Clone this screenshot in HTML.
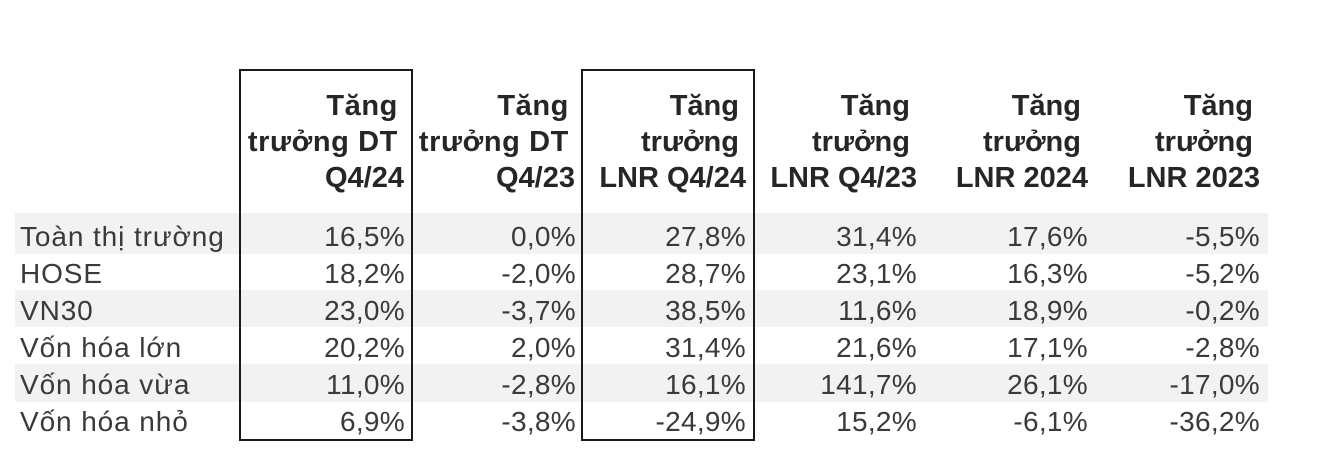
<!DOCTYPE html>
<html>
<head>
<meta charset="utf-8">
<style>
html,body{margin:0;padding:0;background:#fff;}
body{width:1334px;height:474px;position:relative;overflow:hidden;font-family:"Liberation Sans",Arial,sans-serif;}
.shade{position:absolute;left:15px;width:1253px;background:#f2f2f2;}
.box{position:absolute;top:69px;height:368px;border:2px solid #1a1a1a;box-sizing:content-box;}
.h{position:absolute;font-weight:bold;font-size:29px;line-height:29px;color:#262626;text-align:right;white-space:nowrap;}
.h.a{letter-spacing:0.6px;}
.d{position:absolute;font-size:28px;line-height:28px;color:#3a3a3a;text-align:right;white-space:nowrap;letter-spacing:0.3px;}
.l{position:absolute;left:20px;font-size:28px;line-height:28px;color:#3a3a3a;white-space:nowrap;letter-spacing:0.9px;}
</style>
</head>
<body>
<div class="shade" style="top:213px;height:41px;"></div>
<div class="shade" style="top:290px;height:37px;"></div>
<div class="shade" style="top:364px;height:38px;"></div>

<div class="box" style="left:239px;width:170px;"></div>
<div class="box" style="left:581px;width:170px;"></div>

<div class="h a" style="right:936px;top:92px;">Tăng</div>
<div class="h a" style="right:936px;top:128px;">trưởng DT</div>
<div class="h" style="right:930px;top:164px;">Q4/24</div>

<div class="h a" style="right:765px;top:92px;">Tăng</div>
<div class="h a" style="right:765px;top:128px;">trưởng DT</div>
<div class="h" style="right:759px;top:164px;">Q4/23</div>

<div class="h" style="right:595px;top:92px;">Tăng</div>
<div class="h" style="right:595px;top:128px;">trưởng</div>
<div class="h" style="right:588px;top:164px;">LNR Q4/24</div>

<div class="h" style="right:424px;top:92px;">Tăng</div>
<div class="h" style="right:424px;top:128px;">trưởng</div>
<div class="h" style="right:417px;top:164px;">LNR Q4/23</div>

<div class="h" style="right:253px;top:92px;">Tăng</div>
<div class="h" style="right:253px;top:128px;">trưởng</div>
<div class="h" style="right:246px;top:164px;">LNR 2024</div>

<div class="h" style="right:81px;top:92px;">Tăng</div>
<div class="h" style="right:81px;top:128px;">trưởng</div>
<div class="h" style="right:74px;top:164px;">LNR 2023</div>

<div class="l" style="top:223px;">Toàn thị trường</div>
<div class="d" style="right:929px;top:223px;">16,5%</div>
<div class="d" style="right:758px;top:223px;">0,0%</div>
<div class="d" style="right:588px;top:223px;">27,8%</div>
<div class="d" style="right:417px;top:223px;">31,4%</div>
<div class="d" style="right:246px;top:223px;">17,6%</div>
<div class="d" style="right:74px;top:223px;">-5,5%</div>

<div class="l" style="top:260px;">HOSE</div>
<div class="d" style="right:929px;top:260px;">18,2%</div>
<div class="d" style="right:758px;top:260px;">-2,0%</div>
<div class="d" style="right:588px;top:260px;">28,7%</div>
<div class="d" style="right:417px;top:260px;">23,1%</div>
<div class="d" style="right:246px;top:260px;">16,3%</div>
<div class="d" style="right:74px;top:260px;">-5,2%</div>

<div class="l" style="top:297px;">VN30</div>
<div class="d" style="right:929px;top:297px;">23,0%</div>
<div class="d" style="right:758px;top:297px;">-3,7%</div>
<div class="d" style="right:588px;top:297px;">38,5%</div>
<div class="d" style="right:417px;top:297px;">11,6%</div>
<div class="d" style="right:246px;top:297px;">18,9%</div>
<div class="d" style="right:74px;top:297px;">-0,2%</div>

<div class="l" style="top:334px;">Vốn hóa lớn</div>
<div class="d" style="right:929px;top:334px;">20,2%</div>
<div class="d" style="right:758px;top:334px;">2,0%</div>
<div class="d" style="right:588px;top:334px;">31,4%</div>
<div class="d" style="right:417px;top:334px;">21,6%</div>
<div class="d" style="right:246px;top:334px;">17,1%</div>
<div class="d" style="right:74px;top:334px;">-2,8%</div>

<div class="l" style="top:371px;">Vốn hóa vừa</div>
<div class="d" style="right:929px;top:371px;">11,0%</div>
<div class="d" style="right:758px;top:371px;">-2,8%</div>
<div class="d" style="right:588px;top:371px;">16,1%</div>
<div class="d" style="right:417px;top:371px;">141,7%</div>
<div class="d" style="right:246px;top:371px;">26,1%</div>
<div class="d" style="right:74px;top:371px;">-17,0%</div>

<div class="l" style="top:408px;">Vốn hóa nhỏ</div>
<div class="d" style="right:929px;top:408px;">6,9%</div>
<div class="d" style="right:758px;top:408px;">-3,8%</div>
<div class="d" style="right:588px;top:408px;">-24,9%</div>
<div class="d" style="right:417px;top:408px;">15,2%</div>
<div class="d" style="right:246px;top:408px;">-6,1%</div>
<div class="d" style="right:74px;top:408px;">-36,2%</div>
</body>
</html>
